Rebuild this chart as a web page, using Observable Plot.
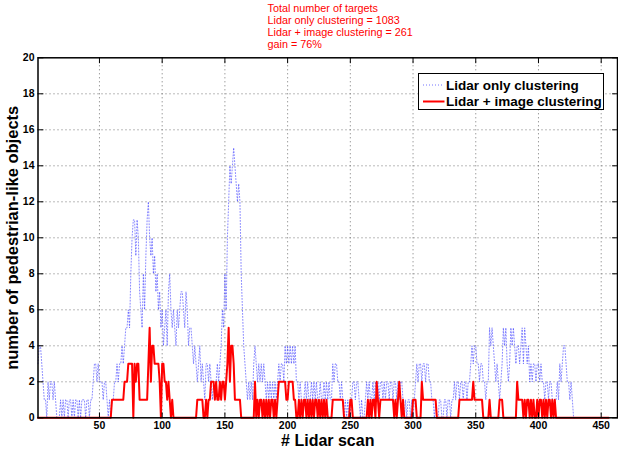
<!DOCTYPE html>
<html>
<head>
<meta charset="utf-8">
<script src="https://cdn.jsdelivr.net/npm/d3@7"></script>
<script src="https://cdn.jsdelivr.net/npm/@observablehq/plot@0.6"></script>
<style>
  body { margin: 0; background: #fff; }
  #wrap { position: relative; width: 618px; height: 457px; font-family: "Liberation Sans", Arial, Helvetica, sans-serif; }
  #legend { position: absolute; left: 418px; top: 73px; width: 186px; height: 37px; box-sizing: border-box; border: 1.5px solid #000; background: #fff; }
  #legend svg { position: absolute; left: -1.5px; top: -1.5px; overflow: visible; }
</style>
</head>
<body>
<div id="wrap">
  <div id="chart"></div>
  <div id="legend"></div>
</div>
<script>
// Series names
const seriesNames = ["Lidar only clustering", "Lidar + image clustering"];

// Annotation text
const annotationLines = [
  "Total number of targets",
  "Lidar only clustering = 1083",
  "Lidar + image clustering = 261",
  "gain = 76%"
];

// Axis ticks
const xTicks = [50, 100, 150, 200, 250, 300, 350, 400, 450];
const yTicks = [0, 2, 4, 6, 8, 10, 12, 14, 16, 18, 20];
const xDomain = [1, 463];
const yDomain = [0, 20];
const xTitle = "# Lidar scan";
const yTitle = "number of pedestrian-like objects";

// Lidar only clustering: count per scan (scan 1..430)
const lidarOnly = [
  3,4,4,3,2,1,1,0,2,1,
  2,2,1,2,1,0,0,0,1,0,
  1,0,1,1,0,1,1,0,1,0,
  1,1,0,1,0,1,1,1,0,1,
  1,0,1,1,2,3,3,2,3,2,
  2,2,1,2,2,1,0,1,0,1,
  1,2,2,3,2,3,3,4,3,4,
  5,5,6,5,8,10,11,11,9,11,
  10,7,6,5,8,6,9,11,12,10,
  9,10,8,9,7,8,6,7,5,6,
  4,5,6,4,7,8,6,5,6,5,
  4,6,5,6,7,7,6,5,7,6,
  4,5,5,4,3,4,3,2,3,4,
  2,3,2,1,3,3,2,3,2,1,
  2,1,2,3,2,3,4,6,5,8,
  6,10,12,14,13,14,15,14,13,12,
  13,12,8,6,4,3,2,1,2,1,
  2,1,3,4,3,2,3,2,3,2,
  3,2,1,2,1,2,1,2,1,2,
  1,2,3,2,3,3,2,4,3,4,
  3,4,3,4,3,4,2,2,1,2,
  1,0,1,2,1,2,1,1,2,1,
  2,1,2,1,1,2,1,1,2,1,
  2,1,2,1,1,3,2,3,3,2,
  2,1,2,1,0,1,0,1,0,0,
  1,2,2,1,2,2,1,0,1,0,
  0,1,2,1,2,1,1,2,1,2,
  1,2,1,2,2,1,2,1,2,2,
  1,2,2,1,2,2,1,2,1,2,
  2,1,0,1,0,1,1,0,1,0,
  1,2,3,2,3,3,2,3,3,2,
  3,3,2,2,1,1,0,1,0,0,
  1,1,0,0,1,1,0,1,1,0,
  1,1,2,1,2,2,1,2,2,1,
  2,2,1,2,2,3,4,3,4,4,
  3,3,2,3,3,2,2,1,2,2,
  5,4,5,4,3,2,3,2,1,2,
  3,5,4,5,3,2,3,5,4,5,
  4,3,4,4,3,4,5,3,5,4,
  3,4,2,3,2,3,3,2,3,3,
  2,3,2,2,1,2,2,1,2,2,
  1,0,1,1,2,1,3,2,3,4,
  4,3,2,2,1,2,1,0,0,0
];

// Lidar + image clustering: count per scan (scan 1..456)
const lidarImage = [
  0,0,0,0,0,0,0,0,0,0,
  0,0,0,0,0,0,0,0,0,0,
  0,0,0,0,0,0,0,0,0,0,
  0,0,0,0,0,0,0,0,0,0,
  0,0,0,0,0,0,0,0,0,0,
  0,0,0,0,0,0,0,0,0,1,
  1,1,1,1,1,1,1,1,1,2,
  2,2,3,3,3,3,0,3,2,3,
  3,1,1,1,1,1,1,1,3,5,
  2,4,4,3,3,3,3,2,0,3,
  3,2,2,1,2,1,0,1,0,0,
  0,0,0,0,0,0,0,0,0,0,
  0,0,0,0,0,0,0,1,1,1,
  1,1,0,0,1,0,1,1,2,2,
  2,1,2,1,1,2,1,2,2,1,
  2,3,5,2,4,4,3,1,1,1,
  1,1,0,0,0,0,0,0,0,0,
  0,0,0,2,0,1,0,1,1,0,
  1,0,1,0,1,0,1,1,0,1,
  0,1,2,2,2,2,2,2,1,1,
  2,2,2,2,1,1,0,0,1,0,
  1,0,1,1,0,1,0,1,0,1,
  0,1,1,0,1,0,1,0,1,0,
  1,0,0,0,0,1,1,1,1,1,
  1,1,1,1,0,0,0,0,0,1,
  1,0,0,0,0,0,0,0,0,0,
  0,0,0,1,0,1,0,1,1,0,
  2,1,0,1,1,1,1,1,1,1,
  1,1,1,1,0,1,0,1,2,1,
  0,1,0,0,0,0,0,0,0,1,
  1,1,0,0,0,0,2,1,1,1,
  1,1,1,1,1,1,1,1,0,0,
  0,0,0,0,0,0,0,0,0,0,
  0,0,0,0,0,0,1,1,1,1,
  1,1,1,1,1,1,1,2,1,1,
  1,1,1,1,1,0,0,0,0,0,
  1,0,0,0,0,0,0,0,1,1,
  1,0,0,0,0,0,0,0,0,0,
  0,0,2,1,1,1,1,0,1,0,
  1,1,0,1,0,1,0,0,1,0,
  1,1,0,1,0,1,0,1,1,0,
  1,0,1,0,0,0,0,0,0,0,
  0,0,0,0,0,0,0,0,0,0,
  0,0,0,0,0,0,0,0,0,0,
  0,0,0,0,0,0,0,0,0,0,
  0,0,0,0,0,0
];

const colors = ["#3a3aff", "#ff0000"];
const font = "'Liberation Sans', Arial, Helvetica, sans-serif";

const tickShape = { draw(context, l) { context.moveTo(0, 0); context.lineTo(0, -l); } };
const tickOpts = { length: 5, anchor: "start", shape: tickShape, stroke: "black", strokeWidth: 1 };

const chart = Plot.plot({
  width: 618,
  height: 457,
  marginLeft: 37.5,
  marginRight: 1,
  marginTop: 57.3,
  marginBottom: 39.7,
  style: { fontFamily: font, background: "white", overflow: "visible" },
  x: { domain: xDomain, ticks: xTicks, label: null },
  y: { domain: yDomain, ticks: yTicks, label: null },
  marks: [
    Plot.gridX(xTicks, { stroke: "#666", strokeOpacity: 0.9, strokeDasharray: "1,3", strokeWidth: 1 }),
    Plot.gridY(yTicks.slice(1, -1), { stroke: "#666", strokeOpacity: 0.9, strokeDasharray: "1,3", strokeWidth: 1 }),
    Plot.lineY(lidarOnly, { x: (d, i) => i + 1, y: d => d, stroke: colors[0], strokeWidth: 1, strokeDasharray: "1,2", strokeOpacity: 0.6, curve: "linear" }),
    Plot.lineY(lidarImage, { x: (d, i) => i + 1, y: d => d, stroke: colors[1], strokeWidth: 2, curve: "linear" }),
    Plot.frame({ stroke: "black", strokeWidth: 1.5 }),
    Plot.vector(xTicks, { x: d => d, frameAnchor: "bottom", rotate: 0, ...tickOpts }),
    Plot.vector(xTicks, { x: d => d, frameAnchor: "top", rotate: 180, ...tickOpts }),
    Plot.vector(yTicks, { y: d => d, frameAnchor: "left", rotate: 90, ...tickOpts }),
    Plot.vector(yTicks, { y: d => d, frameAnchor: "right", rotate: -90, ...tickOpts }),
    Plot.axisX(xTicks, { tickSize: 0, tickPadding: 4, fontSize: 10.5, fontWeight: "bold", fill: "black", label: null }),
    Plot.axisY(yTicks, { tickSize: 0, tickPadding: 3.5, fontSize: 10.5, fontWeight: "bold", fill: "black", label: null }),
    Plot.text([xTitle], { frameAnchor: "bottom", dy: 23, lineAnchor: "middle", textAnchor: "middle", fontSize: 16, fontWeight: "bold", fill: "black" }),
    Plot.text([yTitle], { frameAnchor: "left", dx: -25.5, rotate: -90, textAnchor: "middle", lineAnchor: "middle", fontSize: 16.5, fontWeight: "bold", fill: "black" }),
    Plot.text([annotationLines.join("\n")], { frameAnchor: "top-left", dx: 267 - 37.5, dy: -54.3, textAnchor: "start", lineAnchor: "top", lineHeight: 1.11, fontSize: 10.8, fill: "#ff0000" })
  ]
});
document.getElementById("chart").appendChild(chart);

// Legend
const lg = d3.select("#legend").append("svg").attr("width", 186).attr("height", 37);
const rows = [12, 28.5];
seriesNames.forEach((name, i) => {
  const line = lg.append("line")
    .attr("x1", 5).attr("x2", i === 0 ? 25 : 26.5)
    .attr("y1", rows[i]).attr("y2", rows[i])
    .attr("stroke", colors[i])
    .attr("stroke-width", i === 0 ? 1 : 2);
  if (i === 0) line.attr("stroke-dasharray", "1,2").attr("stroke-opacity", 0.7);
  lg.append("text")
    .attr("x", 28).attr("y", rows[i]).attr("dy", "0.35em")
    .attr("font-family", font).attr("font-size", 13.5).attr("font-weight", "bold")
    .attr("fill", "black")
    .text(name);
});
</script>
</body>
</html>
